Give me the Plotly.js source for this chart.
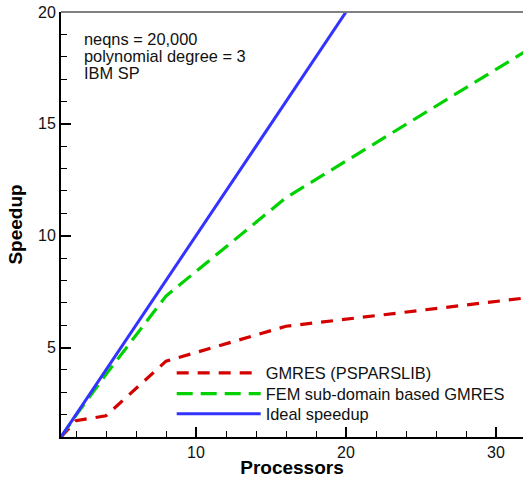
<!DOCTYPE html>
<html>
<head>
<meta charset="utf-8">
<script src="https://cdn.plot.ly/plotly-3.0.1.min.js"></script>
<style>
  html, body { margin: 0; padding: 0; background: #fff; }
  #chart { width: 524px; height: 478px; }
</style>
</head>
<body>
<div id="chart"></div>
<script>
// Processor counts used in the scaling runs
const processors = [1, 2, 4, 8, 16, 32];

// Measured speedup for each solver
const gmresSpeedup = [1, 1.73, 1.95, 4.39, 5.95, 7.22];
const femSpeedup = [1, 1.97, 3.8, 7.3, 11.7, 18.25];

// Ideal (linear) speedup
const idealSpeedup = [1, 2, 4, 8, 16, 32];

const seriesNames = ["GMRES (PSPARSLIB)", "FEM sub-domain based GMRES", "Ideal speedup"];
const infoLines = ["neqns = 20,000", "polynomial degree = 3", "IBM SP"];

const FONT = "Liberation Sans, Arial, Helvetica, sans-serif";

const traces = [
  {
    x: processors, y: gmresSpeedup, name: seriesNames[0], legend: "legend",
    type: "scatter", mode: "lines",
    line: { color: "#d40000", width: 3.2, dash: "12px,9px" }
  },
  {
    x: processors, y: femSpeedup, name: seriesNames[1], legend: "legend2",
    type: "scatter", mode: "lines",
    line: { color: "#00d200", width: 3.2, dash: "16px,8px" }
  },
  {
    x: processors, y: idealSpeedup, name: seriesNames[2], legend: "legend3",
    type: "scatter", mode: "lines",
    line: { color: "#3333ff", width: 3 }
  }
];

// one legend box per series so the rows sit close together
function legendAt(yPos) {
  return {
    x: 0.2396, y: yPos, xanchor: "left", yanchor: "middle",
    bgcolor: "rgba(0,0,0,0)", borderwidth: 0,
    font: { family: FONT, size: 16.4, color: "#111" },
    itemwidth: 84
  };
}

const infoY = [0.9365, 0.896, 0.8555];
const annotations = infoLines.map((t, i) => ({
  text: t, xref: "paper", yref: "paper",
  x: 0.047, y: infoY[i], xanchor: "left", yanchor: "middle",
  showarrow: false, borderpad: 0,
  font: { family: FONT, size: 16.4, color: "#111" }
}));

const layout = {
  width: 524, height: 478,
  margin: { l: 61, r: 1, t: 12, b: 41 },
  paper_bgcolor: "#fff", plot_bgcolor: "#fff",
  font: { family: FONT, color: "#111" },
  showlegend: true,
  legend: legendAt(0.1499),
  legend2: legendAt(0.1012),
  legend3: legendAt(0.0541),
  xaxis: {
    range: [1, 31.8], showgrid: false, zeroline: false,
    showline: true, linecolor: "#000", linewidth: 2,
    ticks: "inside", ticklen: 10, tickwidth: 2, tickcolor: "#000",
    tick0: 0, dtick: 10,
    minor: { ticks: "inside", ticklen: 6, tickwidth: 1, tickcolor: "#000", dtick: 2, tick0: 0 },
    tickfont: { family: FONT, size: 16, color: "#111" },
    title: { text: "<b>Processors</b>", font: { family: FONT, size: 19, color: "#000" }, standoff: 4 }
  },
  yaxis: {
    range: [1, 20], showgrid: false, zeroline: false,
    showline: true, linecolor: "#000", linewidth: 2,
    ticks: "inside", ticklen: 10, tickwidth: 2, tickcolor: "#000",
    tick0: 0, dtick: 5,
    minor: { ticks: "inside", ticklen: 6, tickwidth: 1, tickcolor: "#000", dtick: 1, tick0: 0 },
    tickfont: { family: FONT, size: 16, color: "#111" },
    title: { text: "<b>Speedup</b>", font: { family: FONT, size: 19, color: "#000" }, standoff: 10 }
  },
  shapes: [
    { type: "line", xref: "paper", yref: "paper", x0: 0, x1: 1, y0: 1, y1: 1,
      line: { color: "#808080", width: 2 } }
  ],
  annotations: annotations
};

Plotly.newPlot("chart", traces, layout, { staticPlot: true, displayModeBar: false });
</script>
</body>
</html>
